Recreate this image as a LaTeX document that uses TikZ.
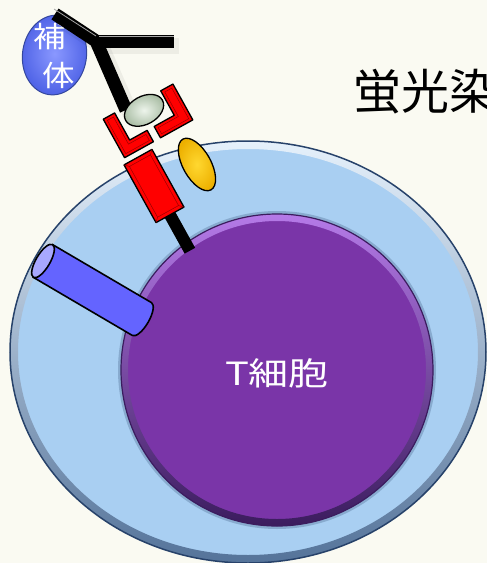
\documentclass[tikz,border=0pt]{standalone}
\usepackage{fontspec}
\newfontfamily\jp{Noto Sans CJK JP}
\definecolor{bg}{HTML}{FAFAF2}
\definecolor{cellblue}{HTML}{A9CFF2}
\definecolor{cellrim}{HTML}{27426A}
\definecolor{nucpurple}{HTML}{7A35A8}
\definecolor{nucrim}{HTML}{3B1C5E}
\definecolor{nuchi}{HTML}{B57AE8}
\definecolor{compblue}{HTML}{4E62E6}
\definecolor{comphi}{HTML}{8A98FF}
\definecolor{comprim}{HTML}{34479E}
\definecolor{cylbody}{HTML}{6464FF}
\definecolor{cylcap}{HTML}{A8A8FF}
\definecolor{peptide}{HTML}{C4DCBE}
\definecolor{gold}{HTML}{EDB000}
\definecolor{goldhi}{HTML}{FFD830}
\tikzset{
  redpart/.style={fill=red, draw=black, line width=1.3pt, line join=round},
  bevel/.style={draw=red!60!black, line width=0.5pt},
  bar/.style={draw=black, line width=13pt, line join=miter},
  barshadow/.style={draw=black, opacity=0.05, line width=16pt},
  whitejp/.style={text=white, inner sep=0pt},
}
\begin{document}
\begin{tikzpicture}[x=1pt,y=-1pt]
\clip (0,0) rectangle (487,563);
\fill[bg] (0,0) rectangle (487,563);

% cell body
\fill[cellblue] (248,352) ellipse [x radius=238pt, y radius=211pt];
\begin{scope}
  \clip (248,352) ellipse [x radius=238pt, y radius=211pt];
  \shade[even odd rule, top color=white!70!cellblue, middle color=cellblue,
         bottom color=cellrim!65!cellblue]
    (248,352) ellipse [x radius=238pt, y radius=211pt]
    (248,352) ellipse [x radius=230pt, y radius=203pt];
\end{scope}
\draw[cellrim, line width=1.5pt] (248,352) ellipse [x radius=238pt, y radius=211pt];

% nucleus
\draw[cellrim, opacity=0.25, line width=4pt] (277,370) circle [radius=157pt];
\fill[nucpurple] (277,370) circle [radius=156pt];
\begin{scope}
  \clip (277,370) circle [radius=156pt];
  \shade[even odd rule, top color=nuchi, middle color=nucpurple,
         bottom color=nucrim]
    (277,370) circle [radius=156pt]
    (277,370) circle [radius=149pt];
\end{scope}
\draw[nucrim, line width=1.2pt] (277,370) circle [radius=156pt];
\node[whitejp, font=\jp\fontsize{32}{32}\selectfont] (tcell) at (277,373)
  {\scalebox{1.25}[1]{T細胞}};

% membrane channel (cylinder)
\begin{scope}[shift={(43,261)}, rotate=-30.4]
  \path[fill=cylbody, draw=black, line width=1.6pt]
    (0,-19) -- (114.7,-19)
    arc [start angle=90, end angle=-90, x radius=7pt, y radius=19pt]
    -- (0,19) -- cycle;
  \path[fill=cylcap, draw=black, line width=1.6pt]
    (0,0) ellipse [x radius=7pt, y radius=19pt];
\end{scope}

% receptor complex
\begin{scope}[shift={(154,186)}, rotate=29]
  \fill[black] (-6,30) rectangle (6,74);
  \path[redpart] (-16,-33) rectangle (16,33);
  \draw[bevel] (-12,-29) rectangle (12,29);
  \draw[bevel] (-16,-33) -- (-12,-29) (16,-33) -- (12,-29)
               (16,33) -- (12,29) (-16,33) -- (-12,29);
  \path[redpart] (-12,-83) -- (1,-83) -- (1,-52) -- (21,-52) -- (21,-39)
                 -- (-12,-39) -- cycle;
  \draw[bevel] (-9,-80) -- (-2,-80) -- (-2,-49) -- (18,-49) -- (18,-42)
               -- (-9,-42) -- cycle;
  \path[redpart] (52,-80) -- (66,-80) -- (66,-39) -- (29,-39) -- (29,-52)
                 -- (52,-52) -- cycle;
  \draw[bevel] (55,-77) -- (63,-77) -- (63,-42) -- (32,-42) -- (32,-49)
               -- (55,-49) -- cycle;
  \shade[inner color=goldhi, outer color=gold] (48,2) ellipse [x radius=14pt, y radius=29pt];
  \draw[black, line width=1.3pt] (48,2) ellipse [x radius=14pt, y radius=29pt];
\end{scope}

% complement
\begin{scope}[shift={(54.5,55)}, rotate=-8]
  \shade[inner color=comphi, outer color=compblue] (0,0) ellipse [x radius=32pt, y radius=40pt];
  \draw[comprim, line width=1pt] (0,0) ellipse [x radius=32pt, y radius=40pt];
\end{scope}
\node[whitejp, font=\jp\fontsize{29}{29}\selectfont] (ho) at (50,37)
  {\scalebox{1.12}[1]{補}};
\node[whitejp, font=\jp\fontsize{29}{29}\selectfont] (tai) at (58.5,75)
  {\scalebox{1.12}[1]{体}};

% antibody
\coordinate (armL) at (55,14);
\coordinate (hinge) at (96,41);
\coordinate (armR) at (174,41);
\coordinate (fc) at (126,110);
\draw[barshadow] ([shift={(5,5)}]armL) -- ([shift={(5,5)}]hinge) -- ([shift={(5,5)}]fc);
\draw[barshadow] ([shift={(5,5)}]hinge) -- ([shift={(5,5)}]armR);
\draw[bar] (armL) -- (hinge) -- (fc);
\draw[bar] (hinge) -- (armR);
\draw[gray!70, line width=0.8pt] ([shift={(-1,-5)}]armL) -- ([shift={(0,-5)}]hinge);
\draw[gray!70, line width=0.8pt] ([shift={(3,-5)}]hinge) -- ([shift={(0,-5)}]armR);

% peptide
\begin{scope}[shift={(154,186)}, rotate=29]
  \shade[inner color=white!70!peptide, outer color=peptide!85!black]
    (28,-71) ellipse [x radius=21pt, y radius=14pt];
  \draw[black, line width=1.3pt] (28,-71) ellipse [x radius=21pt, y radius=14pt];
\end{scope}

% label
\node[anchor=west, inner sep=0pt, font=\jp\fontsize{48}{48}\selectfont] (title)
  at (353,92) {蛍光染};
\end{tikzpicture}
\end{document}
